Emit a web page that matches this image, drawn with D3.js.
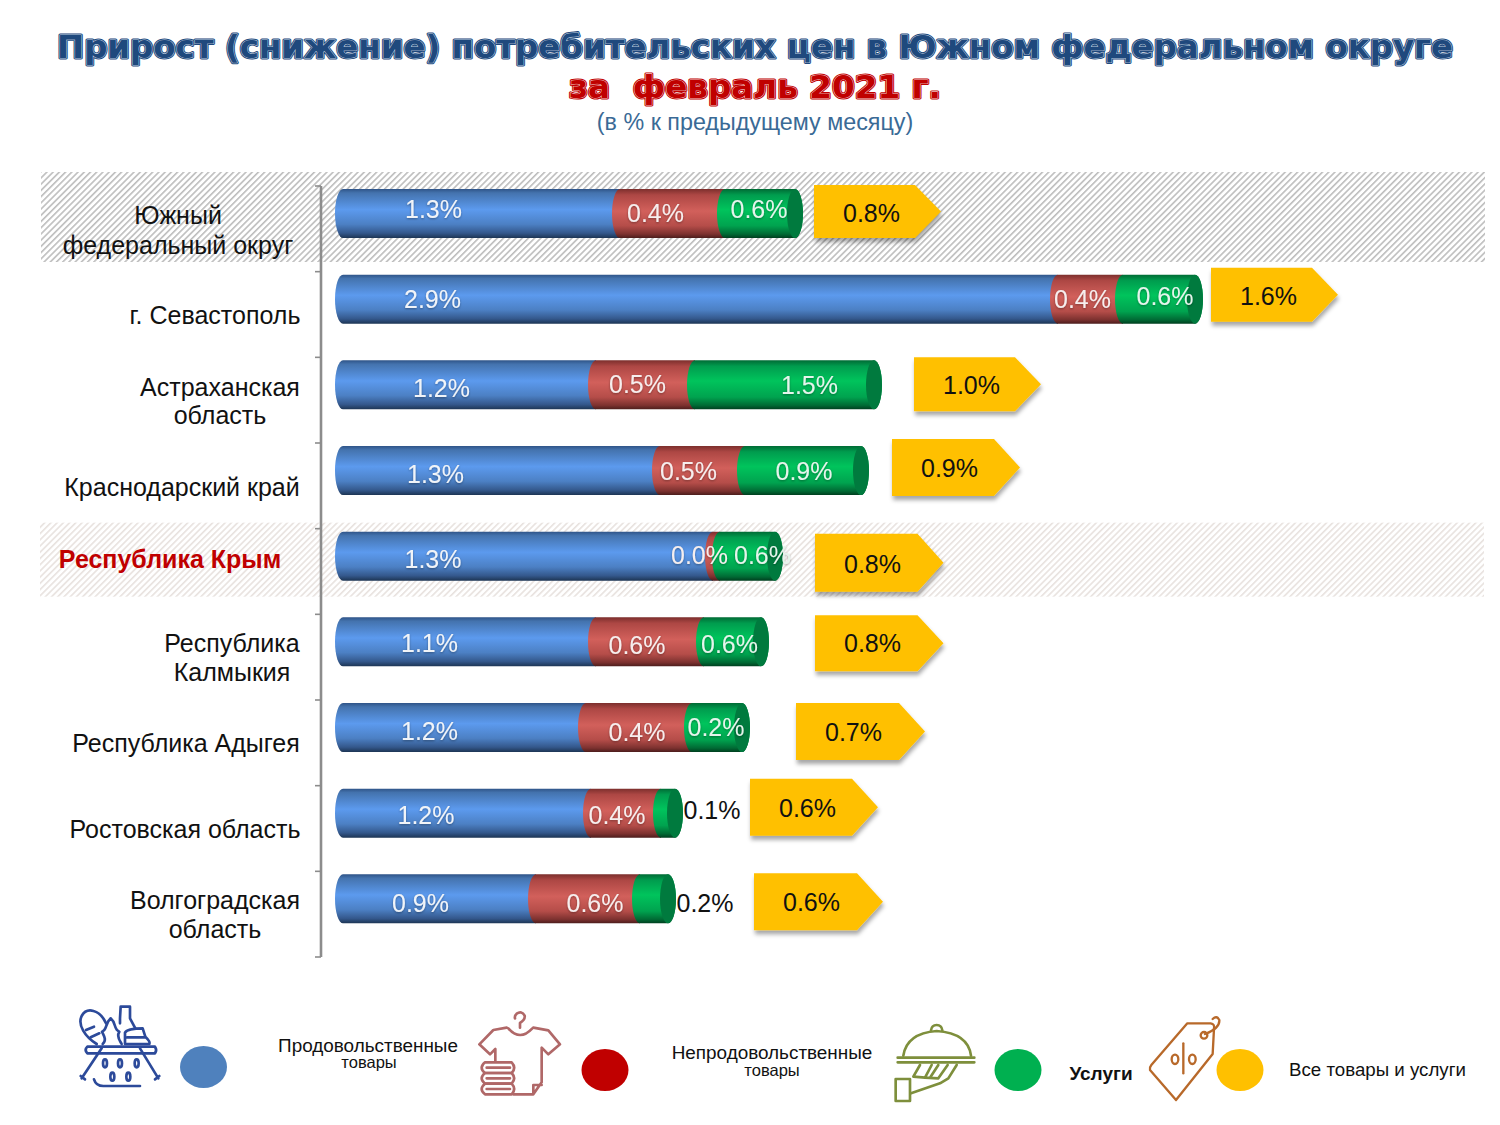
<!DOCTYPE html>
<html lang="ru">
<head>
<meta charset="utf-8">
<script src="https://cdn.jsdelivr.net/npm/d3@7"></script>
<style>
html,body{margin:0;padding:0;background:#fff}
svg{display:block}
text{font-family:"Liberation Sans",Arial,sans-serif;white-space:pre}
</style>
</head>
<body>
<div id="chart"></div>
<script>
// ---- data ----
const categories = ["Южный федеральный округ","г. Севастополь","Астраханская область","Краснодарский край","Республика Крым","Республика Калмыкия","Республика Адыгея","Ростовская область","Волгоградская область"];
const categoryLines = [["Южный","федеральный округ"],["г. Севастополь"],["Астраханская","область"],["Краснодарский край"],["Республика Крым"],["Республика","Калмыкия"],["Республика Адыгея"],["Ростовская область"],["Волгоградская","область"]];
// printed labels
const foodLabels    = ["1.3%","2.9%","1.2%","1.3%","1.3%","1.1%","1.2%","1.2%","0.9%"];
const nonFoodLabels = ["0.4%","0.4%","0.5%","0.5%","0.0%","0.6%","0.4%","0.4%","0.6%"];
const serviceLabels = ["0.6%","0.6%","1.5%","0.9%","0.6%","0.6%","0.2%","0.1%","0.2%"];
const allLabels     = ["0.8%","1.6%","1.0%","0.9%","0.8%","0.8%","0.7%","0.6%","0.6%"];
// drawn lengths of the segments, as they appear in the picture
const foodLengths    = [1.108,2.860,1.012,1.268,1.480,1.012,0.972,0.992,0.772];
const nonFoodLengths = [0.420,0.260,0.396,0.340,0.028,0.432,0.424,0.280,0.416];
const serviceLengths = [0.344,0.352,0.780,0.528,0.284,0.292,0.264,0.120,0.176];
const arrowStarts    = [1.916,3.504,2.316,2.228,1.920,1.920,1.844,1.660,1.676];

// ---- layout ----
const W=1500,H=1125;
const rowLabelX  = [178,215,220,182,170,232,186,185,215];
const rowLabelY  = [30,44,31,45,31,30,44,44,30];
const rowLineGap = [30,0,28,0,0,29,0,0,29];
const foodDx=[-40,-260,-20,-58,-87,-32,-27,-33,-11], foodDy=[-5,0,3,3,3,1,3,2,4];
const nonDx=[-9,0,0,-6,-9,-5,6,-1,15], nonDy=[-1,0,-1,0,-1,3,4,2,4];
const svcDx=[-1,6,25,1,15,-3,-1,44,51], svcDy=[-5,-3,0,0,-1,2,-1,-3,4];
const arrowTop=[-4,-7,-3,-7,2,-2,0,-10,-1];
const arrowHeights=[53,54,54,57,58,56,57,57,57];
const arrowWidths=[127,127,127,128,128.5,128.5,129,128,129];
const arrowLabelY=[24,21,25,22,32,26,29,19,28];
const barH=49, capR=8;

const svg=d3.select("#chart").append("svg").attr("width",W).attr("height",H).attr("viewBox",`0 0 ${W} ${H}`);
const defs=svg.append("defs");

function grad(id,stops){
  const g=defs.append("linearGradient").attr("id",id).attr("x1",0).attr("y1",0).attr("x2",0).attr("y2",1);
  stops.forEach(s=>g.append("stop").attr("offset",s[0]).attr("stop-color",s[1]));
}
grad("g-food",[[0,"#2f5488"],[0.08,"#4473ae"],[0.42,"#5c9aee"],[0.72,"#4c80c4"],[0.9,"#34588c"],[1,"#1d3554"]]);
grad("g-non",[[0,"#7c2f2d"],[0.12,"#ad4744"],[0.45,"#d2605b"],[0.75,"#b54d49"],[0.92,"#7c312f"],[1,"#4c1d1c"]]);
grad("g-svc",[[0,"#006b35"],[0.12,"#009c4e"],[0.42,"#00c45c"],[0.75,"#00a34f"],[0.92,"#006a34"],[1,"#003f1f"]]);

function hatch(id,color,w){
  const p=defs.append("pattern").attr("id",id).attr("width",4.4).attr("height",4.4)
    .attr("patternUnits","userSpaceOnUse").attr("patternTransform","rotate(45)");
  p.append("rect").attr("width",4.4).attr("height",4.4).attr("fill","#fff");
  p.append("rect").attr("width",w).attr("height",4.4).attr("fill",color);
}
hatch("h-grey","#bdbdbd",1.6);
hatch("h-light","#e8e2df",1.6);

const shadow=defs.append("filter").attr("id","arrowShadow").attr("x","-10%").attr("y","-10%").attr("width","125%").attr("height","135%");
shadow.append("feDropShadow").attr("dx",1).attr("dy",4).attr("stdDeviation",2).attr("flood-color","#000").attr("flood-opacity",0.35);
const soft=defs.append("filter").attr("id","textSoft").attr("x","-10%").attr("y","-20%").attr("width","120%").attr("height","140%");
soft.append("feDropShadow").attr("dx",0).attr("dy",1).attr("stdDeviation",0.8).attr("flood-color","#000").attr("flood-opacity",0.35);

// ---- scales ----
const x=d3.scaleLinear().domain([0,5]).range([335,1585]);
const y=d3.scaleBand().domain(categories).range([186,957]);
const rows=categories.map((c,i)=>({category:c,food:foodLengths[i],nonFood:nonFoodLengths[i],service:serviceLengths[i]}));
const keys=["food","nonFood","service"];
const stacked=d3.stack().keys(keys)(rows);
const fills={food:"url(#g-food)",nonFood:"url(#g-non)",service:"url(#g-svc)"};

// ---- highlighted rows ----
svg.append("rect").attr("x",41).attr("y",y(categories[0])-14).attr("width",1444).attr("height",90).attr("fill","url(#h-grey)");
svg.append("rect").attr("x",40).attr("y",y(categories[4])-6).attr("width",1444).attr("height",74).attr("fill","url(#h-light)");

// ---- title ----
function outlined(txt,cx,base,size,len,dark,light){
  [[dark,3,"none"],[light,1.1,"none"]].forEach(l=>{
    svg.append("text").attr("x",cx).attr("y",base).attr("text-anchor","middle")
      .attr("textLength",len).attr("lengthAdjust","spacingAndGlyphs")
      .style("font-family","'DejaVu Sans'").style("font-weight","bold").style("font-size",size+"px")
      .attr("fill","none").attr("stroke",l[0]).attr("stroke-width",l[1]).attr("stroke-linejoin","round").text(txt);
  });
  svg.append("text").attr("x",cx).attr("y",base).attr("text-anchor","middle")
    .attr("textLength",len).attr("lengthAdjust","spacingAndGlyphs")
    .style("font-family","'DejaVu Sans'").style("font-weight","bold").style("font-size",size+"px")
    .attr("fill",dark).text(txt);
}
outlined("Прирост (снижение) потребительских цен в Южном федеральном округе",755,58,32,1396,"#1f497d","#b9c9dc");
outlined("за  февраль 2021 г.",755,98,32,372,"#c00000","#f0c4c4");
svg.append("text").attr("x",755).attr("y",130).attr("text-anchor","middle").attr("fill","#3a6a96")
  .style("font-size","23.3px").text("(в % к предыдущему месяцу)");

// ---- category axis ----
const axisG=svg.append("g").attr("stroke","#8c8c8c");
axisG.append("line").attr("x1",321).attr("x2",321).attr("y1",y.range()[0]).attr("y2",y.range()[1]).attr("stroke-width",2.6);
categories.concat([null]).forEach((c,i)=>{
  const ty=c?y(c):y.range()[1];
  axisG.append("line").attr("x1",315).attr("x2",321).attr("y1",ty).attr("y2",ty).attr("stroke-width",1.6);
});
const labelG=svg.append("g");
categoryLines.forEach((lines,i)=>{
  lines.forEach((t,j)=>{
    const isCrimea=i===4;
    labelG.append("text").attr("x",rowLabelX[i]).attr("y",y(categories[i])+rowLabelY[i]+j*rowLineGap[i]+8)
      .attr("text-anchor","middle").attr("fill",isCrimea?"#c00000":"#111")
      .style("font-size","25px").style("font-weight",isCrimea?"bold":"normal").text(t);
  });
});

// ---- cylinders ----
const barTop=c=>y(c)+3;
function segPath(x0,x1,t,last){
  const right = last
    ? `L${x1-capR},${t+barH} A${capR},${barH/2} 0 0 0 ${x1-capR},${t}`
    : `L${x1+capR},${t+barH} L${x1+capR},${t}`;
  return `M${x0+capR},${t} A${capR},${barH/2} 0 0 0 ${x0+capR},${t+barH} ${right} Z`;
}
const series=svg.append("g").selectAll("g").data(stacked).join("g").attr("fill",d=>fills[d.key]);
series.selectAll("path").data(d=>d.map(v=>Object.assign(v,{last:d.key==="service"}))).join("path")
  .attr("d",d=>segPath(x(d[0]),x(d[1]),barTop(d.data.category),d.last));
svg.append("g").selectAll("ellipse").data(stacked[2]).join("ellipse")
  .attr("cx",d=>x(d[1])-capR).attr("cy",d=>barTop(d.data.category)+barH/2)
  .attr("rx",capR).attr("ry",barH/2).attr("fill","#007a3e");

// ---- segment labels ----
const mid=d=>(x(d[0])+x(d[1]))/2, rowMid=d=>barTop(d.data.category)+barH/2;
function segLabels(sIdx,labels,dx,dy,colorFn){
  svg.append("g").selectAll("text").data(stacked[sIdx]).join("text")
    .attr("x",(d,i)=>mid(d)+dx[i]).attr("y",(d,i)=>rowMid(d)+dy[i]+9)
    .attr("text-anchor","middle").attr("fill",(d,i)=>colorFn(i))
    .attr("filter",(d,i)=>colorFn(i)==="#111"?null:"url(#textSoft)")
    .style("font-size","25px").text((d,i)=>labels[i]);
}
segLabels(0,foodLabels,foodDx,foodDy,()=>"#f1f4f8");
segLabels(1,nonFoodLabels,nonDx,nonDy,()=>"#f6eeee");
segLabels(2,serviceLabels,svcDx,svcDy,i=>i>=7?"#111":"#e6f4ec");

// ---- "all goods" arrows ----
const arrowHead=26;
const arrowG=svg.append("g").selectAll("g").data(categories).join("g")
  .attr("transform",(c,i)=>`translate(${x(arrowStarts[i])},${barTop(c)})`);
arrowG.append("path").attr("fill","#ffc000").attr("filter","url(#arrowShadow)")
  .attr("d",(c,i)=>{
    const w=arrowWidths[i],h=arrowHeights[i],t=arrowTop[i];
    return d3.line()([[0,t],[w-arrowHead,t],[w,t+h/2],[w-arrowHead,t+h],[0,t+h]])+"Z";
  });
arrowG.append("text").attr("x",57.5).attr("y",(c,i)=>arrowLabelY[i]+9).attr("text-anchor","middle")
  .attr("fill","#111").style("font-size","25px").text((c,i)=>allLabels[i]);

// ---- legend ----
const legendNames=[["Продовольственные","товары"],["Непродовольственные","товары"],["Услуги"],["Все товары и услуги"]];
const legendColors=["#4f81bd","#c00000","#00b050","#ffc000"];
const legendDots=[[203.5,1067],[605,1070],[1018,1070],[1240,1070]];
svg.append("g").selectAll("ellipse").data(legendColors).join("ellipse")
  .attr("cx",(d,i)=>legendDots[i][0]).attr("cy",(d,i)=>legendDots[i][1]).attr("rx",23.5).attr("ry",21).attr("fill",d=>d);
function lt(t,cx,by,size,weight){svg.append("text").attr("x",cx).attr("y",by).attr("text-anchor","middle").attr("fill","#111")
  .style("font-size",size+"px").style("font-weight",weight||"normal").text(t);}
lt(legendNames[0][0],368,1052,18.9); lt(legendNames[0][1],369,1068,16.5);
lt(legendNames[1][0],772,1059,18.9); lt(legendNames[1][1],772,1076,16.5);
lt(legendNames[2][0],1101,1080,19,"bold");
lt(legendNames[3][0],1377.5,1076,18.7);

function icon(ox,oy,color,w,paths){
  const g=svg.append("g").attr("transform",`translate(${ox},${oy}) scale(${1/3})`)
    .attr("fill","none").attr("stroke",color).attr("stroke-width",w).attr("stroke-linecap","round").attr("stroke-linejoin","round");
  paths.forEach(p=>g.append("path").attr("d",p));
  return g;
}
const hole=(cx,cy,rx,ry)=>`M${cx},${cy-ry} A${rx},${ry} 0 1 1 ${cx},${cy+ry} A${rx},${ry} 0 1 1 ${cx},${cy-ry} Z`;
// basket
icon(70,1000,"#2c4a9a",8,[
 "M52,140 H255 Q262,150 255,160 H52 Q42,150 52,140 Z",
 "M35,235 L95,145 M32,228 L45,238 M265,235 L210,145 M268,228 L255,238",
 "M72,238 Q78,258 100,258 H210",
 hole(105,190,6,12),hole(150,190,6,12),hole(200,190,6,12),hole(127,230,6,12),hole(175,230,6,12),
 "M80,132 C45,110 22,75 35,48 C50,20 90,28 108,70",
 "M48,90 L72,80 M62,112 L88,100",
 "M98,132 C112,120 100,105 96,95 C112,90 105,70 122,55 C140,70 130,88 148,95 C138,110 150,122 155,132",
 "M150,70 V55 L152,20 H180 V55 L196,85",
 "M165,132 V98 Q172,85 218,85 L226,110 Q242,125 238,132 Z M172,112 H226"
]);
// clothes
icon(470,1005,"#b06868",8,[
 "M150,68 V54 Q166,44 164,32 Q155,16 140,26 Q133,32 135,40",
 "M115,70 Q150,110 187,70 M110,68 L70,75 L28,118 L60,148 L76,132 V170",
 "M190,68 L235,76 L270,118 L235,148 L215,128 V232 L190,268 H130 M190,268 V240 H215",
 "M45,172 H125 Q140,188 125,204 H45 Q25,188 45,172 Z",
 "M45,204 H125 Q140,220 125,236 H45 Q25,220 45,204 Z",
 "M45,236 H125 Q140,252 125,268 H45 Q25,252 45,236 Z",
 "M50,188 H120 M50,220 H120 M50,252 H120"
]);
// cloche
icon(885,1015,"#7e8f3c",8,[
 "M138,46 Q140,30 155,30 Q170,30 172,46",
 "M55,122 Q65,55 155,48 Q250,55 258,122",
 "M38,128 H268 M38,142 H268",
 "M105,150 L85,185 L120,188 L140,150 M160,150 L135,188 M188,150 L160,190 L120,188",
 "M215,150 L190,190 L165,205 L78,235",
 "M32,192 H75 V258 H32 Z"
]);
// price tag
icon(1140,1010,"#b8692a",7,[
 "M142,40 H212 Q225,42 222,56 L218,132 L108,270 L30,180 Q28,172 34,165 Z",
 hole(192,76,10,10),
 "M195,72 Q240,55 238,30 Q230,15 218,27",
 "M130,100 V190",
 hole(105,148,10,14),hole(157,148,10,14)
]);
</script>
</body>
</html>
